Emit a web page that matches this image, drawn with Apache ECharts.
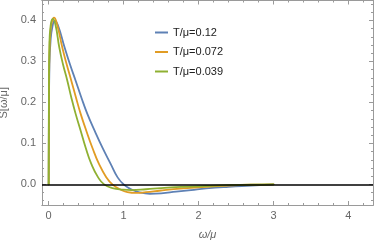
<!DOCTYPE html>
<html><head><meta charset="utf-8">
<script src="https://cdn.jsdelivr.net/npm/echarts@6/dist/echarts.min.js"></script>
<style>html,body{margin:0;padding:0;background:#fff}#c{width:375px;height:245px}</style>
</head><body><div id="c"></div>
<script>
// T/mu = 0.12 (blue)
var omegaA = [0, 0.003, 0.01, 0.025, 0.05, 0.08, 0.12, 0.213, 0.284, 0.36, 0.436, 0.516, 0.613, 0.716, 0.827, 0.92, 1.0, 1.1, 1.2, 1.35, 1.5, 1.7, 1.9, 2.1, 2.4, 2.7, 3.0];
var sA     = [0, 0.15, 0.29, 0.35, 0.385, 0.399, 0.39, 0.334, 0.293, 0.253, 0.212, 0.172, 0.131, 0.090, 0.050, 0.017, 0, -0.012, -0.019, -0.023, -0.022, -0.018, -0.014, -0.010, -0.006, -0.003, 0];
// T/mu = 0.072 (orange)
var omegaB = [0, 0.003, 0.01, 0.025, 0.045, 0.071, 0.11, 0.182, 0.24, 0.302, 0.364, 0.427, 0.502, 0.582, 0.671, 0.77, 0.85, 0.95, 1.05, 1.17, 1.3, 1.5, 1.8, 2.1, 2.4, 2.7, 3.0];
var sB     = [0, 0.18, 0.32, 0.375, 0.398, 0.407, 0.392, 0.334, 0.293, 0.253, 0.212, 0.172, 0.131, 0.090, 0.050, 0.017, 0, -0.012, -0.019, -0.021, -0.019, -0.015, -0.010, -0.006, -0.003, -0.001, 0];
// T/mu = 0.039 (green)
var omegaC = [0, 0.003, 0.01, 0.025, 0.053, 0.09, 0.142, 0.191, 0.249, 0.302, 0.36, 0.427, 0.493, 0.569, 0.66, 0.74, 0.85, 1.0, 1.1, 1.3, 1.5, 1.8, 2.1, 2.4, 2.7, 3.0];
var sC     = [0, 0.20, 0.34, 0.385, 0.404, 0.39, 0.334, 0.293, 0.253, 0.212, 0.172, 0.131, 0.090, 0.050, 0.017, 0, -0.009, -0.013, -0.014, -0.012, -0.009, -0.006, -0.004, -0.002, -0.001, 0];
var seriesNames = ['T/\u03bc=0.12', 'T/\u03bc=0.072', 'T/\u03bc=0.039'];
var xTicks = [0, 1, 2, 3, 4];
var xMinor = [0.2,0.4,0.6,0.8,1.2,1.4,1.6,1.8,2.2,2.4,2.6,2.8,3.2,3.4,3.6,3.8,4.2];
var yTicks = [0, 0.1, 0.2, 0.3, 0.4];
var yMinor = [-0.04,-0.02,0.02,0.04,0.06,0.08,0.12,0.14,0.16,0.18,0.22,0.24,0.26,0.28,0.32,0.34,0.36,0.38,0.42,0.44];

var XMIN = -0.089, XMAX = 4.328, YMIN = -0.0504, YMAX = 0.4487;
var gray = '#9a9a9a', labelGray = '#666666';
var font = 'Liberation Sans, Arial, sans-serif';
function pairs(xs, ys){ return xs.map(function(x,i){ return [x, ys[i]]; }); }
function xAx(pos, ticks, len, labels, extra){
  var a = {type:'value', min:XMIN, max:XMAX, position:pos, gridIndex:0, offset:0,
    axisLine:{show:true, onZero:false, lineStyle:{color:gray, width:1}},
    axisTick:{show:true, inside:true, length:len, customValues:ticks, lineStyle:{color:gray}},
    axisLabel:labels ? {show:true, customValues:ticks, color:labelGray, fontSize:11, fontFamily:font, margin:5, formatter:function(v){return String(v);}} : {show:false},
    splitLine:{show:false}};
  return Object.assign(a, extra||{});
}
function yAx(pos, ticks, len, labels, extra){
  var a = {type:'value', min:YMIN, max:YMAX, position:pos, gridIndex:0, offset:0,
    axisLine:{show:true, onZero:false, lineStyle:{color:gray, width:1}},
    axisTick:{show:true, inside:true, length:len, customValues:ticks, lineStyle:{color:gray}},
    axisLabel:labels ? {show:true, customValues:ticks, color:labelGray, fontSize:11, fontFamily:font, margin:6, formatter:function(v){return v.toFixed(1);}} : {show:false},
    splitLine:{show:false}};
  return Object.assign(a, extra||{});
}
var colors = ['#5E81B5', '#E19C24', '#8FB032'];
var chart = echarts.init(document.getElementById('c'), null, {renderer:'canvas'});
function lineSeries(i, data, z){
  return {name:seriesNames[i], type:'line', data:data, smooth:0.5, showSymbol:false, color:colors[i],
    lineStyle:{width:1.8, color:colors[i], join:'round', cap:'round'}, z:z};
}
var s0 = lineSeries(0, pairs(omegaA, sA), 2);
s0.markLine = {silent:true, symbol:'none', label:{show:false}, lineStyle:{color:'#000', width:1.5, type:'solid'}, data:[{yAxis:0}], z:10};
chart.setOption({
  animation:false,
  grid:{left:42, right:2, top:0.5, bottom:40, containLabel:false, outerBoundsMode:'none'},
  xAxis:[
    xAx('bottom', xTicks, 4, true, {name:'\u03c9/\u03bc', nameLocation:'middle', nameGap:24, nameTextStyle:{color:labelGray, fontSize:11, fontStyle:'italic', fontFamily:font}}),
    xAx('bottom', xMinor, 2, false),
    xAx('top', xTicks, 4, false),
    xAx('top', xMinor, 2, false)
  ],
  yAxis:[
    yAx('left', yTicks, 4, true, {name:'S[\u03c9/\u03bc]', nameLocation:'middle', nameGap:31, nameRotate:90, nameTextStyle:{color:labelGray, fontSize:11, fontFamily:font}}),
    yAx('left', yMinor, 2, false),
    yAx('right', yTicks, 4, false),
    yAx('right', yMinor, 2, false)
  ],
  legend:{orient:'vertical', left:155, top:27, padding:0, itemWidth:13, itemHeight:2, itemGap:8.5, icon:'rect',
    textStyle:{color:'#222', fontSize:11, fontFamily:font},
    data:seriesNames},
  series:[
    s0,
    lineSeries(1, pairs(omegaB, sB), 3),
    lineSeries(2, pairs(omegaC, sC), 4)
  ]
});
</script></body></html>
